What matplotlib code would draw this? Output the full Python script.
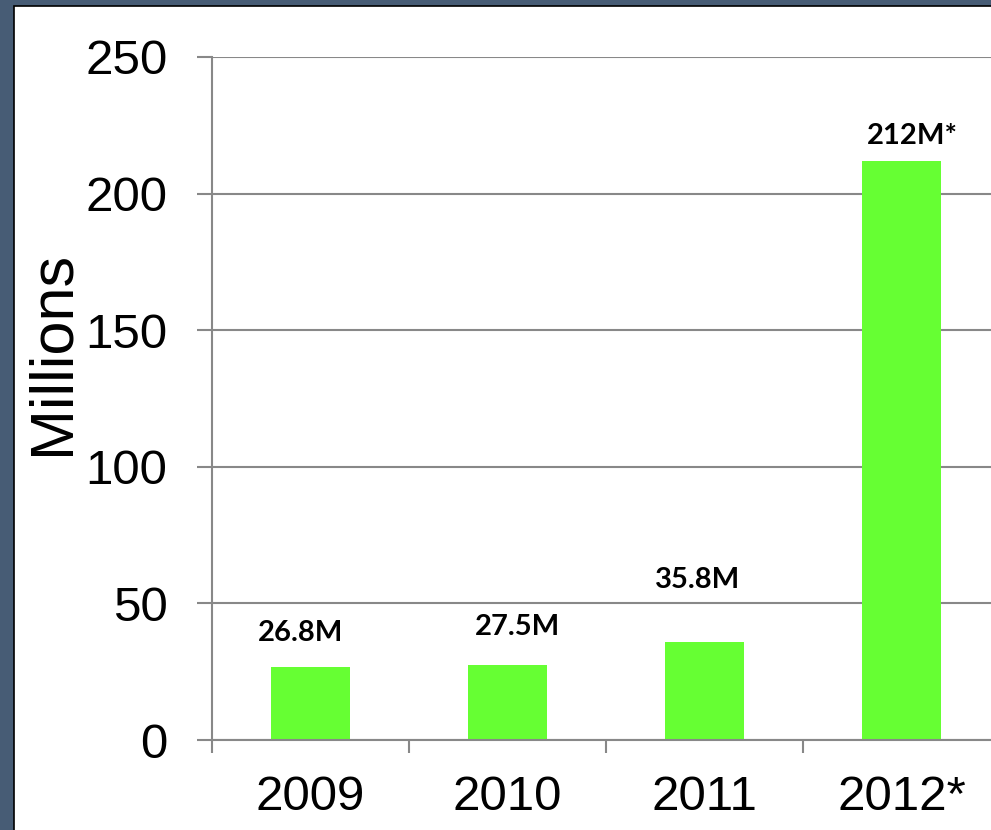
import numpy as np
import matplotlib
matplotlib.use('Agg')
import matplotlib.pyplot as plt
from matplotlib.patches import Rectangle

# yearly totals, in millions
years = ['2009', '2010', '2011', '2012*']
totals = [26.8, 27.5, 35.8, 212]
value_labels = ['26.8M', '27.5M', '35.8M', '212M*']

# hand placed label nudges (points), the labels don't sit evenly above the bars
label_dx = [-7, 7, -5, 8]
label_dy = [24, 27, 45, 18]

frame_color = '#475c75'
bar_color = '#66ff33'
grid_color = '#888888'

fig = plt.figure(figsize=(9.91, 8.3), dpi=100)
fig.patch.set_facecolor(frame_color)

# white slide panel with thin dark edge
panel = Rectangle((13.5/991, -0.05), 1.1, 1.05 - 6.5/830,
                  transform=fig.transFigure, facecolor='white',
                  edgecolor='black', linewidth=1.2, zorder=-1)
fig.patches.append(panel)

ax = fig.add_axes([212/991, 90/830, 788/991, 683/830])
ax.set_facecolor('none')

x = np.arange(len(years))
bars = ax.bar(x, totals, width=0.4, color=bar_color, zorder=2)

ax.set_xlim(-0.5, len(years) - 0.5)
ax.set_ylim(0, 250)
ax.set_yticks([0, 50, 100, 150, 200, 250])
ax.yaxis.grid(True, color=grid_color, linewidth=1.5)
ax.set_axisbelow(True)

# tick marks sit on the category borders, labels in the middle
ax.set_xticks(np.arange(len(years) + 1) - 0.5)
ax.set_xticklabels([])
ax.set_xticks(x, minor=True)
ax.set_xticklabels(years, minor=True)
ax.tick_params(axis='x', which='major', length=9.5, width=1.5, color=grid_color)
ax.tick_params(axis='x', which='minor', length=0, pad=25.5)
ax.tick_params(axis='y', length=11, width=1.5, color=grid_color, pad=21)

for lab in ax.get_xticklabels(minor=True) + ax.get_yticklabels():
    lab.set_fontfamily('Liberation Sans')
    lab.set_fontsize(35.5)

for side in ['top', 'right']:
    ax.spines[side].set_visible(False)
for side in ['left', 'bottom']:
    ax.spines[side].set_color(grid_color)
    ax.spines[side].set_linewidth(1.5)

ax.set_ylabel('Millions', fontfamily='Liberation Sans', fontsize=44)
ax.yaxis.set_label_coords(-0.166, 0.567)

for bar, txt, dx, dy in zip(bars, value_labels, label_dx, label_dy):
    ax.annotate(txt, (bar.get_x() + bar.get_width() / 2, bar.get_height()),
                xytext=(dx, dy), textcoords='offset points',
                ha='center', va='center', fontfamily='Lato',
                fontweight='bold', fontsize=21)

fig.savefig('out.png', dpi=100, facecolor=fig.get_facecolor())
